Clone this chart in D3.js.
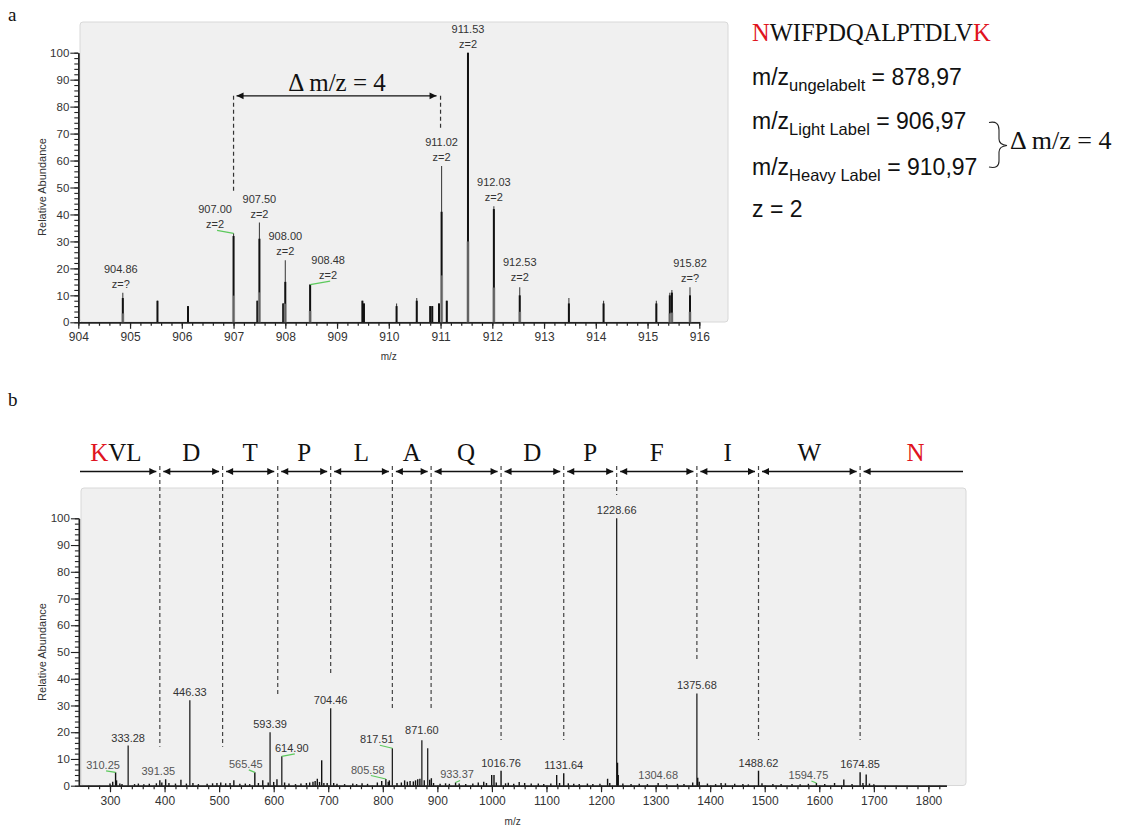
<!DOCTYPE html>
<html>
<head>
<meta charset="utf-8">
<script src="https://cdn.jsdelivr.net/npm/d3@7/dist/d3.min.js"></script>
<style>
  body { margin: 0; background: #fff; }
  svg { display: block; }
  .ms text { font-family: "Liberation Sans", Arial, sans-serif; }
</style>
</head>
<body>
<svg id="fig" width="1121" height="827"></svg>
<script>
// ===== Panel a: precursor isotope cluster (profile height / centroid height) =====
const msA_mz   = [904.86, 905.53, 906.12, 907.00, 907.46, 907.50, 907.96, 908.00, 908.48, 909.49, 909.52,
                  910.15, 910.54, 910.80, 910.84, 910.97, 911.02, 911.12, 911.53, 912.03, 912.53, 913.48,
                  914.15, 915.17, 915.43, 915.47, 915.82];
const msA_int  = [11, 8, 6, 33, 8, 37, 7, 23, 14, 8, 7, 7, 9, 6, 6, 7, 58, 8, 100, 43, 13, 9, 8, 8, 11, 12, 13];
const msA_core = [9, 8, 6, 32, 8, 31, 7, 15, 14, 8, 7, 6, 8, 6, 6, 7, 41, 8, 100, 42, 10, 7, 7, 7, 10, 11, 10];

const labelA_mz     = [904.86, 907.00, 907.50, 908.00, 908.48, 911.02, 911.53, 912.03, 912.53, 915.82];
const labelA_charge = ["z=?", "z=2", "z=2", "z=2", "z=2", "z=2", "z=2", "z=2", "z=2", "z=?"];

const ticksA_x = [904, 905, 906, 907, 908, 909, 910, 911, 912, 913, 914, 915, 916];
const ticksY   = [0, 10, 20, 30, 40, 50, 60, 70, 80, 90, 100];

// light / heavy pair marked with the delta annotation
const pairA = [907.00, 911.00];
const pairGuideEnd = [48, 72];   // abundance where each dashed guide stops
const pairArrowLevel = 84;

// ===== Panel b: MS/MS fragment spectrum =====
const msB_mz  = [310.25, 333.28, 391.35, 446.33, 565.45, 593.39, 614.90, 704.46, 805.58, 817.51,
                 871.60, 882.3, 933.37, 999.6, 1003.8, 1016.76, 1118.7, 1131.64, 1228.66, 1304.68,
                 1375.68, 1488.62, 1594.75, 1674.85, 1686.0, 688.0,
                 300, 305, 312, 318, 322, 345, 352, 362, 372, 385, 395, 402, 408, 420, 430, 440, 452, 462,
                 478, 488, 496, 503, 512, 520, 527, 538, 548, 556, 572, 580, 590, 600, 606, 620, 628, 640,
                 650, 660, 666, 672, 676, 680, 684, 692, 698, 710, 716, 730, 745, 752, 762, 772, 790, 798,
                 810, 812, 826, 834, 840, 845, 850, 856, 860, 864, 868, 876, 886, 889, 893, 905, 915, 922,
                 940, 952, 965, 975, 985, 990, 1008, 1025, 1030, 1040, 1050, 1060, 1072, 1085, 1095, 1108,
                 1124, 1140, 1150, 1160, 1175, 1185, 1198, 1212, 1216, 1230.2, 1231.5, 1240, 1255, 1270,
                 1285, 1320, 1340, 1352, 1368, 1377.2, 1380, 1395, 1410, 1420, 1428, 1445, 1460, 1470,
                 1495, 1515, 1530, 1550, 1565, 1580, 1610, 1628, 1645, 1660, 1680, 1692, 1700];
const msB_int = [5, 15, 2, 32, 5, 20, 11, 29, 2.5, 14,
                 17, 14, 1.2, 4, 4, 5.6, 4, 4.7, 100, 1,
                 34.5, 5.6, 1, 5, 4.2, 9.5,
                 0.8, 1.5, 2, 0.8, 0.6, 0.6, 0.8, 0.5, 0.7, 0.9, 1.2, 2.4, 1, 0.8, 2.2, 0.8, 1, 0.6,
                 0.7, 0.9, 1, 1.2, 0.9, 1, 2, 0.7, 0.8, 0.6, 1, 2, 1.2, 1.4, 2.4, 1.2, 0.8, 0.6,
                 0.8, 1, 1.2, 1.5, 1.8, 2.6, 1.4, 1, 1, 1, 0.7, 0.6, 0.8, 0.6, 0.9, 0.7, 1.2, 1.8,
                 1.5, 2, 1, 1.2, 2, 1.5, 1.8, 1.6, 2, 2.4, 2.6, 2, 2.2, 2.8, 1, 0.7, 0.9, 0.7,
                 0.8, 0.6, 0.8, 1.2, 1.5, 1, 1.2, 0.9, 1.1, 0.7, 1.4, 1, 0.8, 0.8, 0.6, 0.8,
                 1, 0.9, 0.7, 0.6, 0.8, 0.6, 0.7, 2.6, 1, 8.6, 4, 0.8, 0.6, 0.7,
                 0.6, 0.6, 0.7, 0.6, 1.2, 3, 1.5, 0.8, 0.6, 1, 0.9, 0.7, 0.6, 0.5,
                 0.9, 0.6, 0.6, 0.6, 0.5, 0.7, 0.6, 1, 2.3, 0.6, 1, 0.8, 0.5];

const labelB_mz   = [310.25, 333.28, 391.35, 446.33, 565.45, 593.39, 614.90, 704.46, 805.58, 817.51,
                     871.60, 933.37, 1016.76, 1131.64, 1228.66, 1304.68, 1375.68, 1488.62, 1594.75, 1674.85];
const labelB_muted = [310.25, 391.35, 565.45, 805.58, 933.37, 1304.68, 1594.75];

const ticksB_x = [300, 400, 500, 600, 700, 800, 900, 1000, 1100, 1200, 1300, 1400, 1500, 1600, 1700, 1800];

// y-ion ladder of NWIFPDQALPTDLVK and the residue between neighbouring ions
const yIons      = [391.35, 506.38, 607.43, 704.46, 817.51, 888.55, 1016.76, 1131.64, 1228.66, 1375.68, 1488.62, 1674.85];
const ionGuideEnd = [14.6, 14.6, 33.3, 41, 28.6, 28.6, 17.1, 17.1, 108.7, 47, 17.1, 17.1];
const residues   = ["KVL", "D", "T", "P", "L", "A", "Q", "D", "P", "F", "I", "W", "N"];

// ===== layout =====
const svg = d3.select("#fig");
const RED = "#e0141e";
const TXT = "#333";

const layoutA = { box: [80, 22, 728, 322], x0: 78.3, x1: 699.3, y0: 322.3, y1: 52.7 };
const layoutB = { box: [81, 488, 966, 785.5], x0: 78.9, x1: 946.4, y0: 785.7, y1: 518.3 };

// label nudges in pixels (dx, dy) for labels moved off their peak
const nudgeA = { "904.86": [-2, 0], "907.00": [-18.5, 0], "908.48": [18, -0.5], "912.53": [0, -1] };
const nudgeB = { "310.25": [-12.5, 0.5], "565.45": [-9, -0.5], "614.90": [10, -0.5], "805.58": [-18, -1.5],
                 "817.51": [-15.5, -1], "871.60": [0, -2], "933.37": [1.5, 0], "1594.75": [-8, 0],
                 "391.35": [-1.5, -1] };
const greenA = ["907.00", "908.48"];
const greenB = ["310.25", "565.45", "614.90", "805.58", "817.51", "933.37", "1594.75"];

// ===== helpers =====
function panelFrame(g, L) {
  const [bx0, by0, bx1, by1] = L.box;
  g.append("rect").attr("x", bx0).attr("y", by0).attr("width", bx1 - bx0).attr("height", by1 - by0)
    .attr("rx", 3).attr("fill", "#f0f0f0").attr("stroke", "#d8d8d8").attr("stroke-width", 1);
}

function drawAxes(g, x, y, L, majorX, minorX, fontX) {
  const axB = g.append("g").attr("transform", `translate(0,${L.y0})`);
  axB.call(d3.axisBottom(x).tickValues(minorX).tickSize(3.5).tickSizeOuter(0).tickFormat(""));
  axB.append("g").call(d3.axisBottom(x).tickValues(majorX).tickSize(6.5).tickSizeOuter(0).tickPadding(4)
    .tickFormat(d3.format("d")));
  axB.selectAll("path.domain").attr("stroke", "#222").attr("stroke-width", 1.4);
  axB.selectAll("line").attr("stroke", "#222").attr("stroke-width", 1.2);
  axB.selectAll("text").attr("fill", TXT).style("font-size", fontX + "px")
     .style("font-family", "'Liberation Sans', Arial, sans-serif");

  const axL = g.append("g").attr("transform", `translate(${x.range()[0]},0)`);
  axL.call(d3.axisLeft(y).tickValues(d3.range(0, 101, 2)).tickSize(4).tickSizeOuter(0).tickFormat(""));
  axL.append("g").call(d3.axisLeft(y).tickValues(ticksY).tickSize(8).tickSizeOuter(0).tickPadding(1));
  axL.selectAll("path.domain").attr("stroke", "#222").attr("stroke-width", 1.4);
  axL.selectAll("line").attr("stroke", "#222").attr("stroke-width", 1.1);
  axL.selectAll("text").attr("fill", TXT).style("font-size", "11.5px")
     .style("font-family", "'Liberation Sans', Arial, sans-serif");
}

function axisTitles(g, cx, xTitleY, yTitleX, yTitleCY) {
  g.append("text").attr("x", cx).attr("y", xTitleY).attr("text-anchor", "middle")
    .attr("fill", TXT).style("font-size", "10px").text("m/z");
  g.append("text").attr("transform", `translate(${yTitleX},${yTitleCY}) rotate(-90)`)
    .attr("text-anchor", "middle").attr("fill", TXT).style("font-size", "11px").text("Relative Abundance");
}

function arrowHead(g, xTip, y, dir) {
  // dir = +1 points right, -1 points left
  const len = 7, hw = 3.4;
  g.append("path").attr("d", `M${xTip},${y} L${xTip - dir * len},${y - hw} L${xTip - dir * len},${y + hw} Z`)
    .attr("fill", "#111");
}

function dimension(g, xa, xb, y, headA, headB) {
  g.append("line").attr("x1", xa).attr("x2", xb).attr("y1", y).attr("y2", y)
    .attr("stroke", "#111").attr("stroke-width", 1.3);
  if (headA) arrowHead(g, xa, y, -1);
  if (headB) arrowHead(g, xb, y, +1);
}

// ===== panel letters =====
svg.append("text").attr("x", 8).attr("y", 21).style("font-family", "'Liberation Serif', 'Times New Roman', serif")
  .style("font-size", "19px").attr("fill", "#111").text("a");
svg.append("text").attr("x", 8).attr("y", 406).style("font-family", "'Liberation Serif', 'Times New Roman', serif")
  .style("font-size", "19px").attr("fill", "#111").text("b");

// ===== Panel a =====
const gA = svg.append("g").attr("class", "ms");
panelFrame(gA, layoutA);
const xA = d3.scaleLinear().domain([904, 916]).range([layoutA.x0, layoutA.x1]);
const yA = d3.scaleLinear().domain([0, 100]).range([layoutA.y0, layoutA.y1]);
drawAxes(gA, xA, yA, layoutA, ticksA_x, d3.range(904, 916.001, 0.2).map(v => +v.toFixed(1)), 12);
axisTitles(gA, (layoutA.x0 + layoutA.x1) / 2, 360, 46, 187);

const peaksA = msA_mz.map((m, i) => ({ mz: m, int: msA_int[i], core: msA_core[i] }));
gA.append("g").selectAll("line").data(peaksA).join("line")
  .attr("x1", d => xA(d.mz)).attr("x2", d => xA(d.mz))
  .attr("y1", yA(0)).attr("y2", d => yA(d.int))
  .attr("stroke", "#444").attr("stroke-width", 1.1);
gA.append("g").selectAll("line").data(peaksA).join("line")
  .attr("x1", d => xA(d.mz)).attr("x2", d => xA(d.mz))
  .attr("y1", yA(0)).attr("y2", d => yA(d.core))
  .attr("stroke", "#111").attr("stroke-width", 2);
// grey shoulders at the base of the profile peaks
gA.append("g").selectAll("line").data(peaksA.filter(d => d.int > 9)).join("line")
  .attr("x1", d => xA(d.mz)).attr("x2", d => xA(d.mz))
  .attr("y1", yA(0)).attr("y2", d => yA(d.int * 0.3))
  .attr("stroke", "#999").attr("stroke-width", 3.2).attr("opacity", 0.6);

labelA_mz.forEach((m, i) => {
  const key = m.toFixed(2);
  const p = peaksA.find(d => Math.abs(d.mz - m) < 1e-6);
  const [dx, dy] = nudgeA[key] || [0, 0];
  const px = xA(m), py = yA(p.int);
  const lx = px + dx, lb = py - 5 + dy;
  if (greenA.includes(key)) {
    gA.append("line").attr("x1", px).attr("y1", py).attr("x2", lx + 2).attr("y2", lb + 2)
      .attr("stroke", "#5cc95c").attr("stroke-width", 1.2);
  }
  const t = gA.append("text").attr("text-anchor", "middle").attr("fill", TXT).style("font-size", "11px");
  t.append("tspan").attr("x", lx).attr("y", lb - 15).text(key);
  t.append("tspan").attr("x", lx).attr("y", lb).text(labelA_charge[i]);
});

// delta m/z annotation between light and heavy monoisotopic peaks
const yArrow = yA(pairArrowLevel);
pairA.forEach((m, i) => {
  gA.append("line").attr("x1", xA(m)).attr("x2", xA(m)).attr("y1", yArrow).attr("y2", yA(pairGuideEnd[i]))
    .attr("stroke", "#333").attr("stroke-width", 1.2).attr("stroke-dasharray", "4,3");
});
dimension(gA, xA(pairA[0]) + 3, xA(pairA[1]) - 4, yArrow, true, true);
gA.append("text").attr("x", xA((pairA[0] + pairA[1]) / 2)).attr("y", yArrow - 5).attr("text-anchor", "middle")
  .style("font-family", "'Liberation Serif', 'Times New Roman', serif").style("font-size", "25px")
  .attr("fill", "#111").text("\u0394 m/z = 4");

// ===== peptide information beside panel a =====
const gInfo = svg.append("g");
const seqText = gInfo.append("text").attr("x", 752).attr("y", 41)
  .style("font-family", "'Liberation Serif', 'Times New Roman', serif").style("font-size", "24.5px").attr("fill", "#111");
seqText.append("tspan").attr("fill", RED).text("N");
seqText.append("tspan").text("WIFPDQALPTDLV");
seqText.append("tspan").attr("fill", RED).text("K");

function formula(y, sub, value) {
  const t = gInfo.append("text").attr("x", 752).attr("y", y)
    .style("font-family", "'Liberation Sans', Arial, sans-serif").style("font-size", "23px").attr("fill", "#111");
  t.append("tspan").text("m/z");
  t.append("tspan").attr("dy", 6).style("font-size", "16.5px").text(sub);
  t.append("tspan").attr("dy", -6).text(" = " + value);
}
formula(85, "ungelabelt", "878,97");
formula(129, "Light Label", "906,97");
formula(175, "Heavy Label", "910,97");
gInfo.append("text").attr("x", 752).attr("y", 217)
  .style("font-family", "'Liberation Sans', Arial, sans-serif").style("font-size", "23px").attr("fill", "#111")
  .text("z = 2");

// curly brace joining light and heavy label
gInfo.append("path")
  .attr("d", "M989,122.5 C996,121 999,124 999,130 L999,139 C999,143 1002,145 1007,145.5 C1002,146 999,148 999,152 L999,161 C999,166 996,168.5 989,167")
  .attr("fill", "none").attr("stroke", "#222").attr("stroke-width", 1.1);
gInfo.append("text").attr("x", 1010).attr("y", 149)
  .style("font-family", "'Liberation Serif', 'Times New Roman', serif").style("font-size", "26px")
  .attr("fill", "#111").text("\u0394 m/z = 4");

// ===== Panel b =====
const gB = svg.append("g").attr("class", "ms");
panelFrame(gB, layoutB);
const xB = d3.scaleLinear().domain([243, 1833]).range([layoutB.x0, layoutB.x1]);
const yB = d3.scaleLinear().domain([0, 100]).range([layoutB.y0, layoutB.y1]);
drawAxes(gB, xB, yB, layoutB, ticksB_x, d3.range(260, 1830, 20), 12);
axisTitles(gB, (layoutB.x0 + layoutB.x1) / 2, 825, 46, 652);

const peaksB = msB_mz.map((m, i) => ({ mz: m, int: msB_int[i] }));
gB.append("g").selectAll("line").data(peaksB).join("line")
  .attr("x1", d => xB(d.mz)).attr("x2", d => xB(d.mz))
  .attr("y1", yB(0)).attr("y2", d => yB(d.int))
  .attr("stroke", d => d.int > 10 ? "#222" : "#111").attr("stroke-width", d => d.int > 10 ? 1.3 : 1.4);

labelB_mz.forEach(m => {
  const key = m.toFixed(2);
  const p = peaksB.find(d => Math.abs(d.mz - m) < 1e-6);
  const [dx, dy] = nudgeB[key] || [0, 0];
  const px = xB(m), py = yB(p.int);
  const lx = px + dx, lb = py - 4 + dy;
  if (greenB.includes(key)) {
    gB.append("line").attr("x1", px).attr("y1", py).attr("x2", lx + 3).attr("y2", lb + 2)
      .attr("stroke", "#5cc95c").attr("stroke-width", 1.2);
  }
  gB.append("text").attr("x", lx).attr("y", lb).attr("text-anchor", "middle")
    .attr("fill", labelB_muted.includes(m) ? "#555" : TXT).style("font-size", "11px").text(key);
});

// y-ion ladder above panel b
const gLad = svg.append("g");
const yLadder = 471.5;
yIons.forEach((m, i) => {
  gLad.append("line").attr("x1", xB(m)).attr("x2", xB(m)).attr("y1", 466).attr("y2", yB(ionGuideEnd[i]))
    .attr("stroke", "#444").attr("stroke-width", 1.2).attr("stroke-dasharray", "4,3");
});
const edges = [80].concat(yIons.map(m => xB(m))).concat([963]);
residues.forEach((r, i) => {
  const xa = edges[i], xb = edges[i + 1];
  const first = i === 0, last = i === residues.length - 1;
  dimension(gLad, first ? xa : xa + 3.5, last ? xb : xb - 3.5, yLadder, !first, !last);
  const t = gLad.append("text").attr("x", (xa + xb) / 2 - (first ? 4 : 0) + (last ? 4 : 0)).attr("y", 461)
    .attr("text-anchor", "middle")
    .style("font-family", "'Liberation Serif', 'Times New Roman', serif").style("font-size", "25px").attr("fill", "#111");
  if (r === "KVL") {
    t.append("tspan").attr("fill", RED).text("K");
    t.append("tspan").text("VL");
  } else if (r === "N") {
    t.attr("fill", RED).text(r);
  } else {
    t.text(r);
  }
});
</script>
</body>
</html>
